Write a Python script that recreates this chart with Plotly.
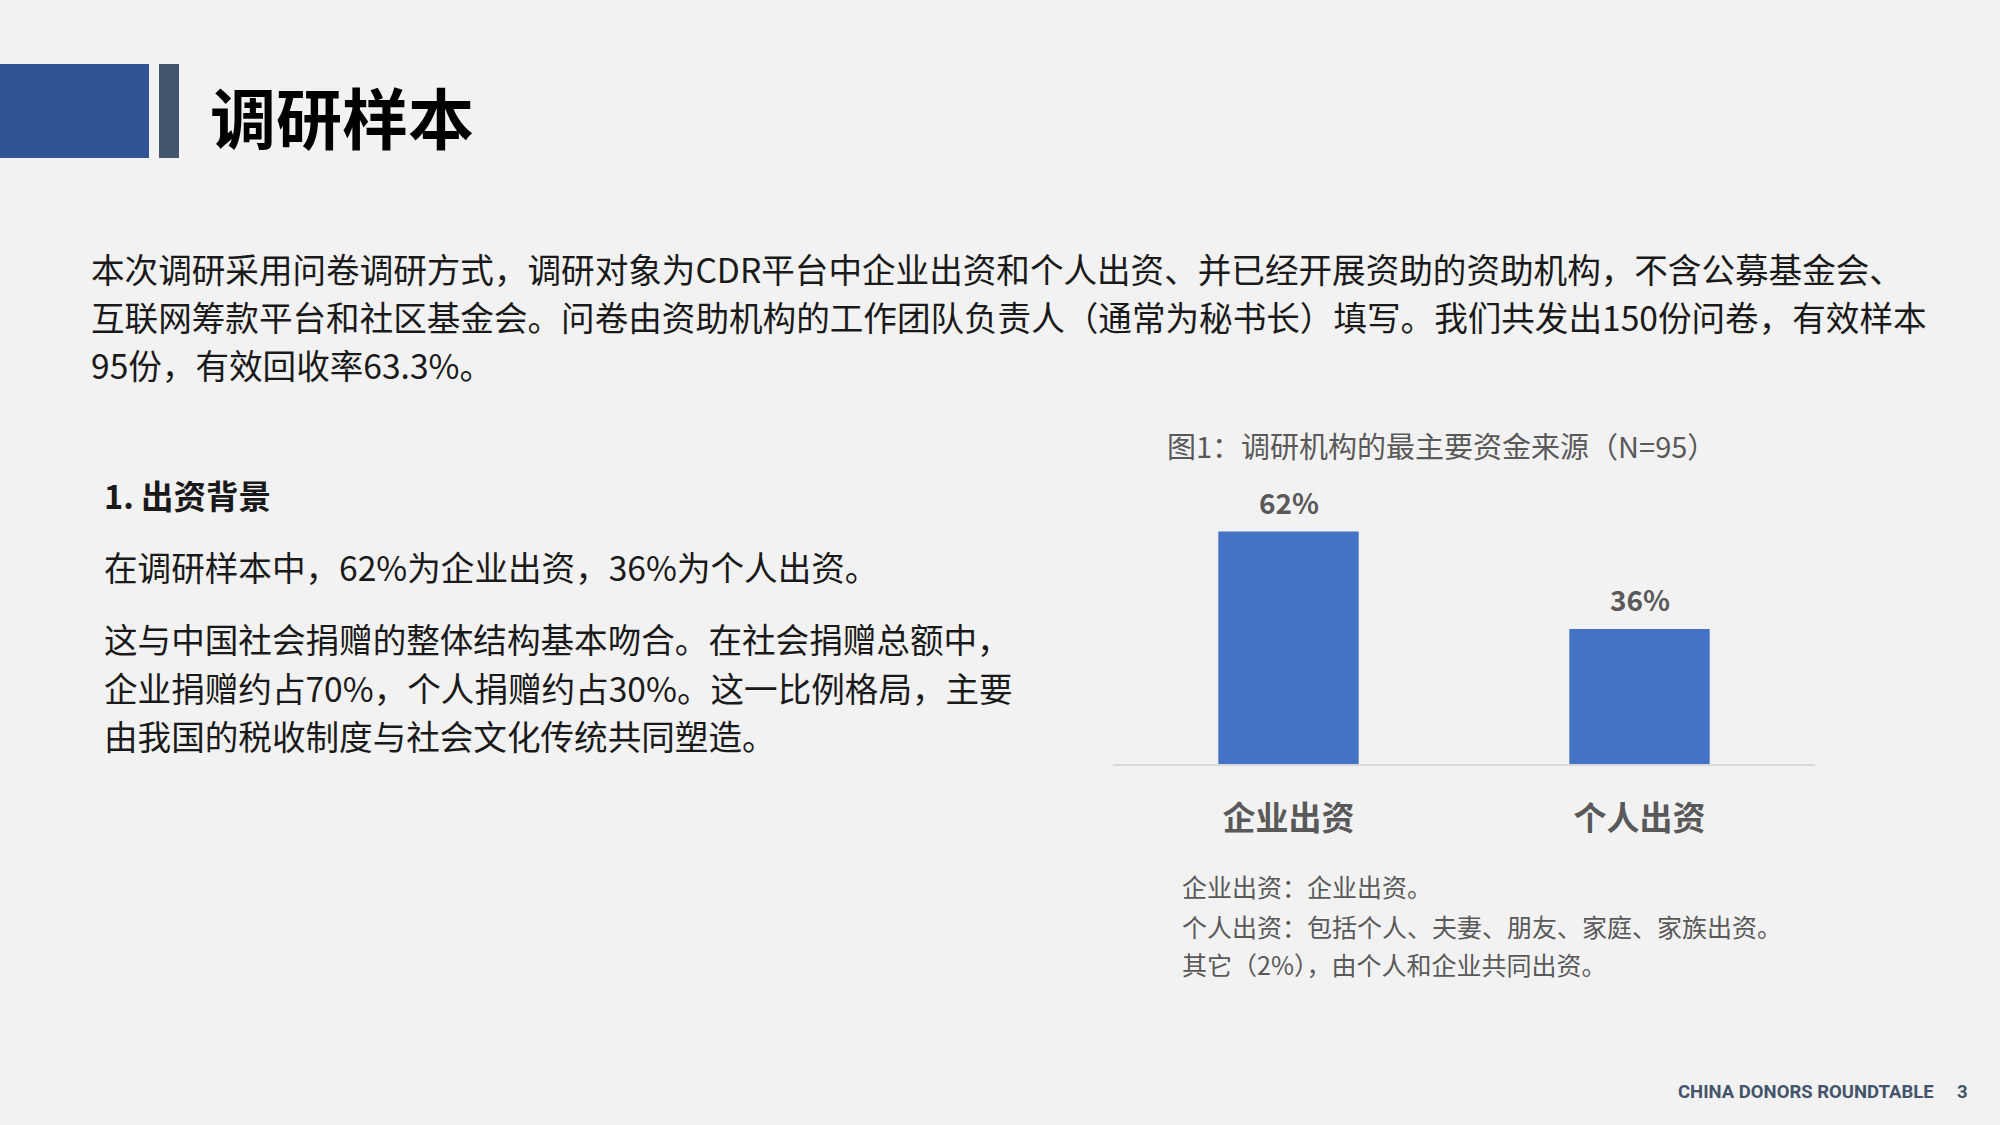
import plotly.graph_objects as go

W, H = 2000, 1125

# chart data
categories = ["企业出资", "个人出资"]
shares = [62, 36]

# text content
title = "调研样本"
intro_lines = [
    "本次调研采用问卷调研方式，调研对象为CDR平台中企业出资和个人出资、并已经开展资助的资助机构，不含公募基金会、",
    "互联网筹款平台和社区基金会。问卷由资助机构的工作团队负责人（通常为秘书长）填写。我们共发出150份问卷，有效样本",
    "95份，有效回收率63.3%。",
]
section_head = "1. 出资背景"
section_lines = [
    "在调研样本中，62%为企业出资，36%为个人出资。",
    "这与中国社会捐赠的整体结构基本吻合。在社会捐赠总额中，",
    "企业捐赠约占70%，个人捐赠约占30%。这一比例格局，主要",
    "由我国的税收制度与社会文化传统共同塑造。",
]
chart_title = "图1：调研机构的最主要资金来源（N=95）"
note_lines = [
    "企业出资：企业出资。",
    "个人出资：包括个人、夫妻、朋友、家庭、家族出资。",
    "其它（2%），由个人和企业共同出资。",
]
footer = "CHINA DONORS ROUNDTABLE"
page_no = "3"

CJK = "Noto Sans CJK SC"
GREY = "#595959"


def px(x):
    return x / W


def py(y):
    return 1 - y / H


def label(text, x, y, size, color="#1a1a1a", bold=False, anchor="left", family=CJK):
    if bold:
        text = f"<b>{text}</b>"
    return dict(text=text, x=px(x), y=py(y), xref="paper", yref="paper",
                xanchor=anchor, yanchor="middle", showarrow=False,
                font=dict(family=family, size=size, color=color))


fig = go.Figure(go.Bar(
    x=categories, y=shares,
    marker=dict(color="#4472c4", line=dict(width=0)),
    width=0.4, hoverinfo="skip",
))

annotations = [label(title, 208, 115, 66, "#000000", bold=True)]
for i, line in enumerate(intro_lines):
    annotations.append(label(line, 89, 268 + i * 48, 33.6))
annotations.append(label(section_head, 102, 494, 32.5, bold=True))
annotations.append(label(section_lines[0], 102, 566, 33.6))
for i, line in enumerate(section_lines[1:]):
    annotations.append(label(line, 102, 639 + i * 48, 33.6))
annotations.append(label(chart_title, 1165, 445, 29, GREY))
for y, line in zip([886, 926, 964], note_lines):
    annotations.append(label(line, 1180, y, 25, GREY))
annotations.append(label(footer, 1936, 1092, 18.5, "#44546a", bold=True,
                         anchor="right", family="Roboto"))
annotations.append(label(page_no, 1962, 1092, 18.5, "#44546a", bold=True,
                         anchor="center", family="Roboto"))

# value labels above bars
for cat, v in zip(categories, shares):
    annotations.append(dict(x=cat, y=v, xref="x", yref="y", text=f"<b>{v}%</b>",
                            showarrow=False, yanchor="middle", yshift=30,
                            font=dict(family=CJK, size=28, color=GREY)))

shapes = [
    dict(type="rect", xref="paper", yref="paper", x0=0, x1=px(149),
         y0=py(158), y1=py(64), fillcolor="#2f5597", line=dict(width=0), layer="below"),
    dict(type="rect", xref="paper", yref="paper", x0=px(159), x1=px(179),
         y0=py(158), y1=py(64), fillcolor="#44546a", line=dict(width=0), layer="below"),
]

fig.update_layout(
    width=W, height=H, margin=dict(l=0, r=0, t=0, b=0),
    paper_bgcolor="#f2f2f2", plot_bgcolor="#f2f2f2",
    showlegend=False, annotations=annotations, shapes=shapes,
    xaxis=dict(domain=[px(1113), px(1815)], showline=True, linecolor="#d9d9d9",
               linewidth=2, showgrid=False, zeroline=False,
               tickvals=categories, ticktext=[f"<b>{c}</b>" for c in categories],
               tickfont=dict(family=CJK, size=33, color=GREY), ticklabelstandoff=24),
    yaxis=dict(domain=[py(764), py(501.5)], range=[0, 70], visible=False),
)

fig.write_html("out.html", config={"displayModeBar": False},
               post_script="document.body.style.margin='0';")
